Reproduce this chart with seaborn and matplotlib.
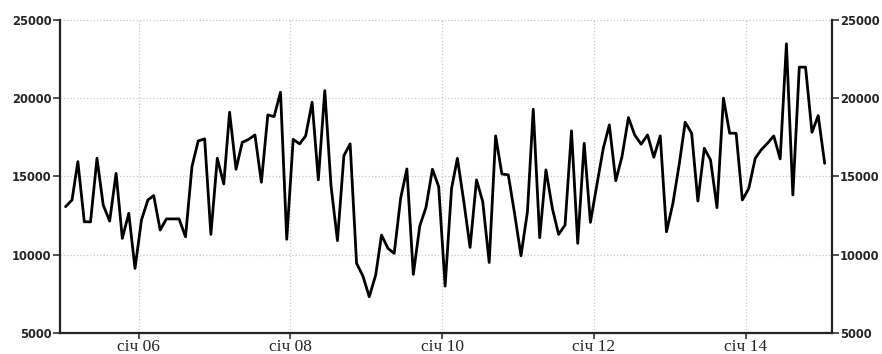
import pandas as pd
import seaborn as sns
import matplotlib.pyplot as plt

# місячні значення, січ 2005 - січ 2015
values = [
    13070, 13500, 15950, 12110, 12100, 16160, 13180, 12150, 15200, 11050, 12650, 9130,
    12220, 13500, 13780, 11580, 12290, 12290, 12290, 11150, 15630, 17270, 17400, 11300,
    16160, 14520, 19100, 15460, 17180, 17370, 17650, 14630, 18930, 18820, 20380, 10990,
    17370, 17080, 17590, 19740, 14780, 20480, 14400, 10900, 16330, 17080, 9450, 8660,
    7320, 8710, 11260, 10410, 10090, 13610, 15480, 8750, 11840, 13030, 15460, 14350,
    8000, 14240, 16160, 13390, 10470, 14780, 13390, 9510, 17590, 15160, 15100, 12650,
    9940, 12750, 19290, 11090, 15420, 12960, 11300, 11900, 17910, 10730,
    17120, 12070, 14460, 16800, 18290, 14730, 16270, 18760, 17650, 17060, 17650, 16230,
    17590, 11470, 13290, 15840, 18460, 17760, 13430, 16800, 16050, 13010, 20000, 17760,
    17760, 13500, 14240, 16160, 16690, 17120, 17590, 16120, 23470, 13820, 21980, 21980,
    17820, 18890, 15840,
]
dates = pd.date_range("2005-01-01", periods=len(values), freq="MS") + pd.Timedelta(days=14)
df = pd.DataFrame({"date": dates, "value": values})

tick_dates = pd.to_datetime(["2006-01-01", "2008-01-01", "2010-01-01", "2012-01-01", "2014-01-01"])
tick_labels = ["січ 06", "січ 08", "січ 10", "січ 12", "січ 14"]
y_ticks = [5000, 10000, 15000, 20000, 25000]

sns.set_style("white")
fig = plt.figure(figsize=(8.82, 3.54), dpi=100)
ax = fig.add_axes([0.068, 0.059, 0.875, 0.885])

sns.lineplot(data=df, x="date", y="value", color="black", linewidth=2.0, ax=ax)

ax.set_xlim(pd.Timestamp("2004-12-19"), pd.Timestamp("2015-02-18"))
ax.set_ylim(5000, 25000)
ax.set_xticks(tick_dates)
ax.set_xticklabels(tick_labels, fontfamily="Liberation Serif", fontsize=12.5)
ax.set_yticks(y_ticks)
ax.set_yticklabels([str(v) for v in y_ticks], fontfamily="DejaVu Sans",
                   fontweight="bold", fontsize=8.3)
ax.set_xlabel("")
ax.set_ylabel("")

ax.grid(True, color="#c8c8c8", linestyle=":", linewidth=0.9)
ax.tick_params(axis="y", which="both", left=True, right=True, labelleft=True,
               labelright=True, length=5, width=1.2, pad=1, color="#333333")
ax.tick_params(axis="x", bottom=True, length=4, width=1.2, pad=0, color="#333333")

for side in ["left", "right", "bottom"]:
    ax.spines[side].set_color("#222222")
    ax.spines[side].set_linewidth(1.6)
ax.spines["top"].set_visible(False)

fig.savefig("out.png", dpi=100)
